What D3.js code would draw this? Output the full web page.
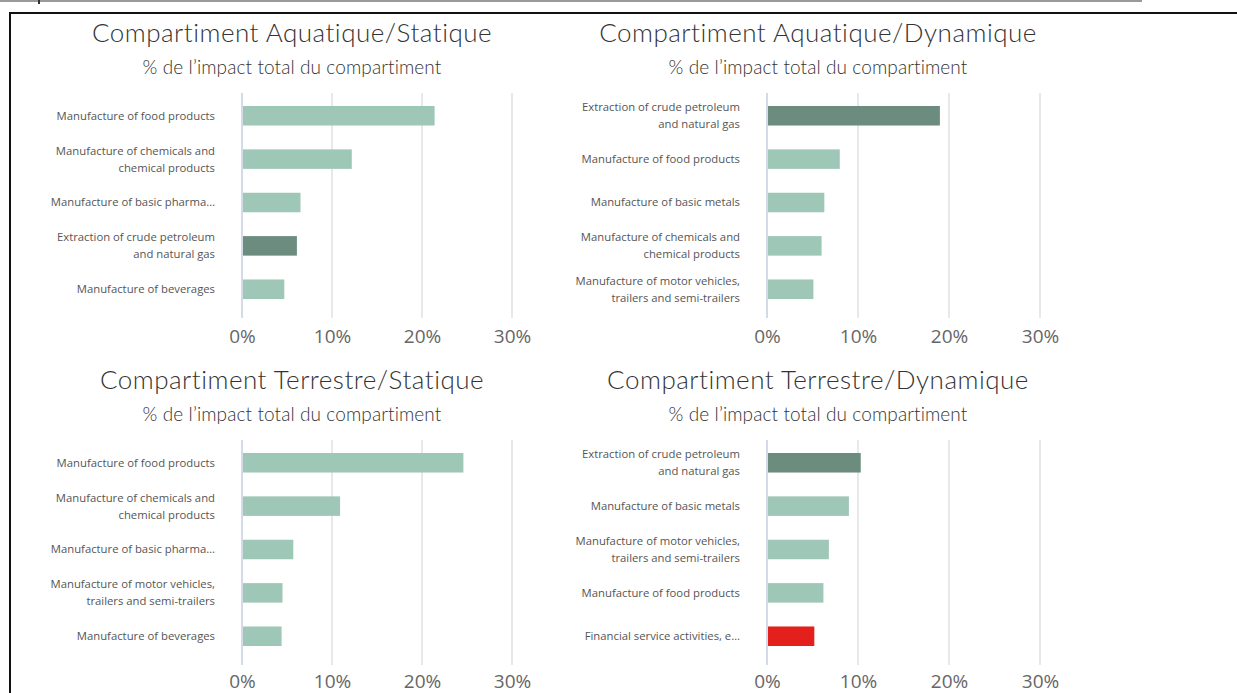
<!DOCTYPE html>
<html>
<head>
<meta charset="utf-8">
<script src="https://cdn.jsdelivr.net/npm/d3@7"></script>
<style>
  body { margin: 0; background: #fff; }
  svg { display: block; }
</style>
</head>
<body>
<svg id="chart"></svg>
<script>
var width = 1237, height = 693;

// titles
var titles = ["Compartiment Aquatique/Statique", "Compartiment Aquatique/Dynamique",
              "Compartiment Terrestre/Statique", "Compartiment Terrestre/Dynamique"];
var subtitle = "% de l’impact total du compartiment";

// data (% of the compartment total impact)
var aquaStatCats = ["Manufacture of food products", "Manufacture of chemicals and\nchemical products",
  "Manufacture of basic pharma…", "Extraction of crude petroleum\nand natural gas", "Manufacture of beverages"];
var aquaStatVals = [21.4, 12.2, 6.5, 6.1, 4.7];

var aquaDynCats = ["Extraction of crude petroleum\nand natural gas", "Manufacture of food products",
  "Manufacture of basic metals", "Manufacture of chemicals and\nchemical products",
  "Manufacture of motor vehicles,\ntrailers and semi-trailers"];
var aquaDynVals = [19.0, 8.0, 6.3, 6.0, 5.1];

var terreStatCats = ["Manufacture of food products", "Manufacture of chemicals and\nchemical products",
  "Manufacture of basic pharma…", "Manufacture of motor vehicles,\ntrailers and semi-trailers",
  "Manufacture of beverages"];
var terreStatVals = [24.6, 10.9, 5.7, 4.5, 4.4];

var terreDynCats = ["Extraction of crude petroleum\nand natural gas", "Manufacture of basic metals",
  "Manufacture of motor vehicles,\ntrailers and semi-trailers", "Manufacture of food products",
  "Financial service activities, e…"];
var terreDynVals = [10.3, 9.0, 6.8, 6.2, 5.2];

var tickValues = [0, 10, 20, 30];

var panels = [
  {title: titles[0], cats: aquaStatCats, vals: aquaStatVals, col: 0, row: 0},
  {title: titles[1], cats: aquaDynCats, vals: aquaDynVals, col: 1, row: 0},
  {title: titles[2], cats: terreStatCats, vals: terreStatVals, col: 0, row: 1},
  {title: titles[3], cats: terreDynCats, vals: terreDynVals, col: 1, row: 1}
];

var axisX = [242, 767], axisEnd = [512, 1040], titleX = [292, 818];
var rowOffset = [0, 347];

function barColor(cat) {
  if (cat.indexOf("Extraction") === 0) return "#6b8c7e";
  if (cat.indexOf("Financial") === 0) return "#e3201b";
  return "#9fc7b8";
}

var svg = d3.select("#chart")
  .attr("width", width)
  .attr("height", height)
  .style("font-family", "'Open Sans', sans-serif");

// frame of the screenshot
svg.append("line").attr("x1", 0).attr("x2", 1142).attr("y1", 1).attr("y2", 1)
  .attr("stroke", "#9a9a9a").attr("stroke-width", 2);
svg.append("line").attr("x1", 39).attr("x2", 39).attr("y1", 0).attr("y2", 4)
  .attr("stroke", "#333").attr("stroke-width", 2);
svg.append("path").attr("d", "M10,693V13H1237")
  .attr("fill", "none").attr("stroke", "#111").attr("stroke-width", 2);

panels.forEach(function(p) {
  var dy = rowOffset[p.row];
  var g = svg.append("g");

  g.append("text")
    .attr("x", titleX[p.col]).attr("y", 42 + dy)
    .attr("text-anchor", "middle")
    .style("font-family", "Lato, sans-serif").style("font-weight", 300)
    .style("font-size", "26px").style("letter-spacing", "0.5px").attr("fill", "#333")
    .text(p.title);
  g.append("text")
    .attr("x", titleX[p.col]).attr("y", 74 + dy)
    .attr("text-anchor", "middle")
    .style("font-family", "Lato, sans-serif").style("font-weight", 300)
    .style("font-size", "19px").style("letter-spacing", "0.1px").attr("fill", "#333")
    .text(subtitle);

  var x = d3.scaleLinear().domain([0, 30]).range([axisX[p.col], axisEnd[p.col]]);
  var y = d3.scaleBand().domain(p.cats).range([93 + dy, 312 + dy])
    .paddingInner(0.55).paddingOuter(0.3);

  // gridlines
  g.selectAll(".grid").data(tickValues).join("line")
    .attr("x1", d => x(d)).attr("x2", d => x(d))
    .attr("y1", 93 + dy).attr("y2", 318 + dy)
    .attr("stroke", d => d === 0 ? "#c5cfe0" : "#e1e1e4")
    .attr("stroke-width", 1.5);

  // tick labels
  var ax = g.append("g")
    .attr("transform", "translate(0," + (318 + dy) + ")")
    .call(d3.axisBottom(x).tickValues(tickValues).tickSize(0).tickPadding(p.row ? 10 : 12)
      .tickFormat(d => d + "%"));
  ax.select(".domain").remove();
  ax.selectAll("text")
    .style("font-family", "'Open Sans', sans-serif")
    .style("font-size", "19px").attr("fill", "#666");

  // bars
  g.selectAll(".bar").data(p.cats).join("rect")
    .attr("x", x(0) + 1)
    .attr("y", d => y(d))
    .attr("width", (d, i) => x(p.vals[i]) - x(0) - 1)
    .attr("height", y.bandwidth())
    .attr("fill", d => barColor(d));

  // category labels
  g.selectAll(".lab").data(p.cats).join("text")
    .attr("text-anchor", "end")
    .attr("fill", "#555")
    .style("font-size", "11.3px")
    .each(function(d) {
      var lines = d.split("\n");
      var cy = y(d) + y.bandwidth() / 2;
      var t = d3.select(this);
      lines.forEach(function(l, i) {
        t.append("tspan")
          .attr("x", x(0) - 27)
          .attr("y", cy + (i - (lines.length - 1) / 2) * 17)
          .attr("dy", "0.35em")
          .text(l);
      });
    });
});
</script>
</body>
</html>
